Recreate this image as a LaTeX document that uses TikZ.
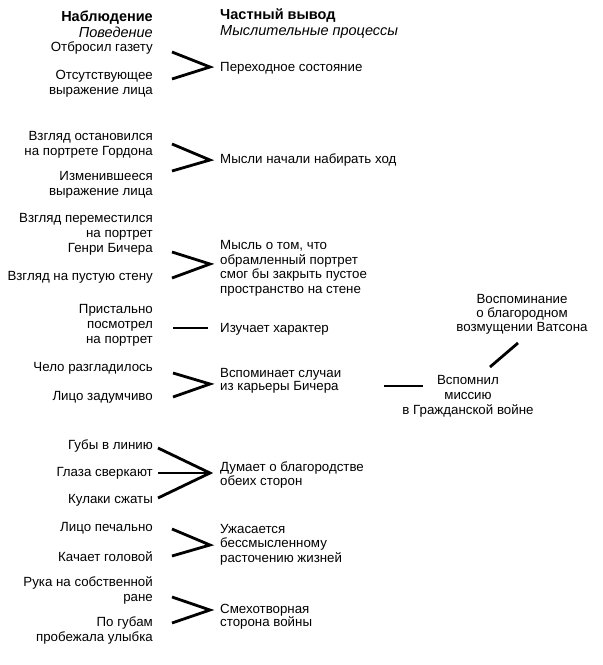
\documentclass[tikz,border=0pt]{standalone}
\usepackage{fontspec}
\setmainfont{Liberation Sans}

\tikzset{obs/.style={anchor=east,align=right,inner sep=0pt,font=\fontsize{13.3}{15}\selectfont}}
\tikzset{inf/.style={anchor=west,align=left,inner sep=0pt,font=\fontsize{13.3}{15}\selectfont}}
\tikzset{memo/.style={align=center,inner sep=0pt,font=\fontsize{13.3}{15}\selectfont}}
\tikzset{head/.style={inner sep=0pt,font=\fontsize{14.5}{16}\selectfont}}
\tikzset{link/.style={line width=2.8pt}}

\begin{document}
\begin{tikzpicture}[x=1pt,y=-1pt]
        \useasboundingbox (0,0) rectangle (603,665);
        % draw the headings
        \node[head,anchor=east,align=right] (hobs) at (153,24) {\textbf{Наблюдение}\\\textit{Поведение}};
        \node[head,anchor=west,align=left] (hinf) at (220,24) {\textbf{Частный вывод}\\\textit{Мыслительные процессы}};
        % draw the observations
        \node[obs] (o1a) at (153,48) {Отбросил газету};
        \node[obs] (o1b) at (153,83.5) {Отсутствующее\\выражение лица};
        \node[obs] (o2a) at (153,144.5) {Взгляд остановился\\на портрете Гордона};
        \node[obs] (o2b) at (153,185) {Изменившееся\\выражение лица};
        \node[obs] (o3a) at (153,234) {Взгляд переместился\\на портрет\\Генри Бичера};
        \node[obs] (o3b) at (153,277) {Взгляд на пустую стену};
        \node[obs] (o4) at (153,325) {Пристально\\посмотрел\\на портрет};
        \node[obs] (o5a) at (153,368) {Чело разгладилось};
        \node[obs] (o5b) at (153,397) {Лицо задумчиво};
        \node[obs] (o6a) at (153,446) {Губы в линию};
        \node[obs] (o6b) at (153,473) {Глаза сверкают};
        \node[obs] (o6c) at (153,500) {Кулаки сжаты};
        \node[obs] (o7a) at (153,528) {Лицо печально};
        \node[obs] (o7b) at (153,557) {Качает головой};
        \node[obs] (o8a) at (153,590) {Рука на собственной\\ране};
        \node[obs] (o8b) at (153,630) {По губам\\пробежала улыбка};
        % draw the inferences
        \node[inf] (i1) at (220,68) {Переходное состояние};
        \node[inf] (i2) at (220,160) {Мысли начали набирать ход};
        \node[inf,font=\fontsize{13.3}{14.5}\selectfont] (i3) at (220,268.5) {Мысль о том, что\\обрамленный портрет\\смог бы закрыть пустое\\пространство на стене};
        \node[inf] (i4) at (220,329) {Изучает характер};
        \node[inf,font=\fontsize{13.3}{13}\selectfont] (i5) at (220,381) {Вспоминает случаи\\из карьеры Бичера};
        \node[inf,font=\fontsize{13.3}{14}\selectfont] (i6) at (220,475) {Думает о благородстве\\обеих сторон};
        \node[inf,font=\fontsize{13.3}{14.5}\selectfont] (i7) at (220,544.5) {Ужасается\\бессмысленному\\расточению жизней};
        \node[inf,font=\fontsize{13.3}{13}\selectfont] (i8) at (220,616.5) {Смехотворная\\сторона войны};
        \node[memo] (m1) at (468,396) {Вспомнил\\миссию\\в Гражданской войне};
        \node[memo,font=\fontsize{13.3}{14}\selectfont] (m2) at (522,314) {Воспоминание\\о благородном\\возмущении Ватсона};
        % connector ends
        \coordinate (c1) at (210,67);
        \coordinate (c2) at (210,160);
        \coordinate (c3) at (210,264);
        \coordinate (c5) at (210,384);
        \coordinate (c6) at (210,473);
        \coordinate (c7) at (210,545);
        \coordinate (c8) at (210,610);
        % draw the connectors
        \draw[link] (172,52) -- (c1) -- (172,79);
        \draw[link] (172,144) -- (c2) -- (172,171);
        \draw[link] (172,252) -- (c3) -- (172,278);
        \draw[link] (173,328) -- (208,328);
        \draw[link] (173,373) -- (c5) -- (173,397);
        \draw[link] (158,448) -- (c6) -- (158,498);
        \draw[link] (158,473) -- (c6);
        \draw[link] (172,529) -- (c7) -- (172,556);
        \draw[link] (172,597) -- (c8) -- (172,623);
        \draw[link] (384,386) -- (423,386);
        \draw[link] (490,367) -- (518,343);
    \end{tikzpicture}
\end{document}
